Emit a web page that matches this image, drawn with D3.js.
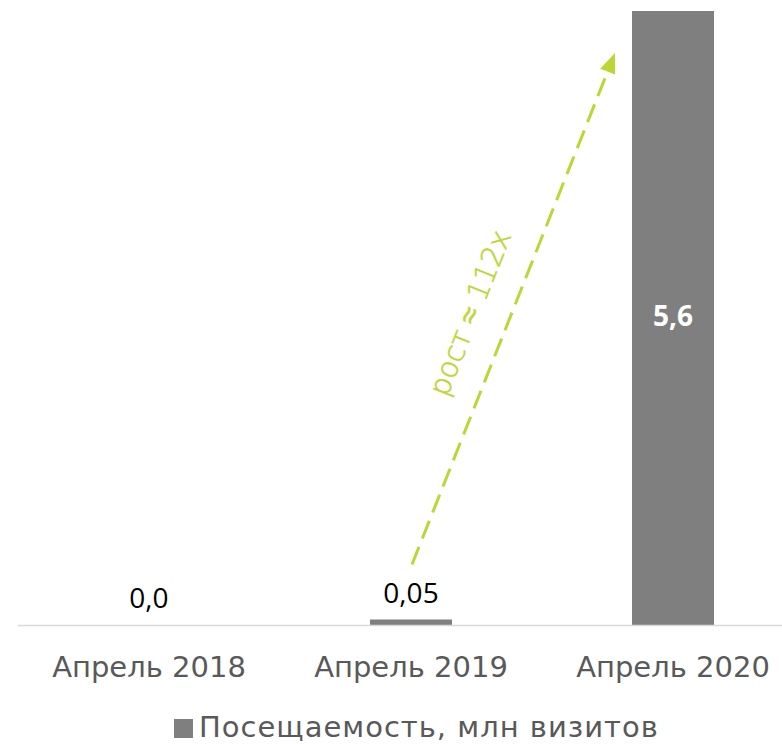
<!DOCTYPE html>
<html>
<head>
<meta charset="utf-8">
<script src="https://cdn.jsdelivr.net/npm/d3@7"></script>
<style>
  html, body { margin: 0; padding: 0; background: #fff; }
  svg { display: block; }
</style>
</head>
<body>
<script>
// Monthly visits, millions
const categories = ["Апрель 2018", "Апрель 2019", "Апрель 2020"];
const visits = [0.0, 0.05, 5.6];
const valueLabels = ["0,0", "0,05", "5,6"];
const seriesName = "Посещаемость, млн визитов";
const growthLabel = "рост ≈ 112x";

const W = 782, H = 744;
const baseY = 625, topY = 11;
const barColor = "#7f7f7f";
const accent = "#bdd635";

const svg = d3.select("body").append("svg")
  .attr("width", W).attr("height", H);

const x = d3.scaleBand()
  .domain(categories)
  .range([18, 804])
  .paddingInner(0.687)
  .paddingOuter(0.3435);

const y = d3.scaleLinear()
  .domain([0, 5.6])
  .range([baseY, topY]);

// bars
svg.append("g").selectAll("rect")
  .data(visits)
  .join("rect")
  .attr("x", (d, i) => x(categories[i]))
  .attr("width", x.bandwidth())
  .attr("y", d => y(d))
  .attr("height", d => baseY - y(d))
  .attr("fill", barColor);

// baseline axis
const xAxis = d3.axisBottom(x).tickSize(0).tickPadding(0);
const axisG = svg.append("g")
  .attr("transform", `translate(0,${baseY})`)
  .call(xAxis);
axisG.select(".domain").remove();
axisG.append("line")
  .attr("x1", 18).attr("x2", W)
  .attr("y1", 0.5).attr("y2", 0.5)
  .attr("stroke", "#d9d9d9").attr("stroke-width", 1.5);
axisG.selectAll(".tick text")
  .attr("y", 52)
  .attr("dy", null)
  .attr("fill", "#595959")
  .attr("font-family", "DejaVu Sans, sans-serif")
  .attr("font-size", 29);

// value labels
const big = 1;
svg.append("g").selectAll("text")
  .data(visits)
  .join("text")
  .attr("x", (d, i) => x(categories[i]) + x.bandwidth() / 2)
  .attr("y", d => d > big ? (y(d) + baseY) / 2 + 8 : y(d) - 17)
  .attr("text-anchor", "middle")
  .attr("font-family", "Open Sans, sans-serif")
  .attr("font-size", 28)
  .attr("font-weight", d => d > big ? 700 : 400)
  .attr("fill", d => d > big ? "#ffffff" : "#000000")
  .text((d, i) => valueLabels[i]);

// growth arrow from the 2019 label up to the 2020 bar
const x0 = x(categories[1]) + x.bandwidth() / 2 + 1;
const y0 = y(visits[1]) - 55;
const x1 = x(categories[2]) - 17;
const y1 = 53;
const ang = Math.atan2(y1 - y0, x1 - x0);
const headLen = 20, headHalf = 8;
const bx = x1 - headLen * Math.cos(ang), by = y1 - headLen * Math.sin(ang);

svg.append("line")
  .attr("x1", x0).attr("y1", y0)
  .attr("x2", bx).attr("y2", by)
  .attr("stroke", accent)
  .attr("stroke-width", 3)
  .attr("stroke-dasharray", "19,9");

const px = -Math.sin(ang), py = Math.cos(ang);
svg.append("path")
  .attr("d", `M${x1},${y1}L${bx + px * headHalf},${by + py * headHalf}L${bx - px * headHalf},${by - py * headHalf}Z`)
  .attr("fill", accent);

// rotated growth caption
const deg = ang * 180 / Math.PI;
svg.append("text")
  .attr("transform", `translate(470,313) rotate(${deg})`)
  .attr("text-anchor", "middle")
  .attr("dominant-baseline", "central")
  .attr("font-family", "DejaVu Sans, sans-serif")
  .attr("font-weight", 300)
  .attr("font-size", 29)
  .attr("stroke", accent)
  .attr("stroke-width", 0.6)
  .attr("fill", accent)
  .text(growthLabel);

// legend
const lg = svg.append("g");
lg.append("rect")
  .attr("x", 174).attr("y", 719)
  .attr("width", 19).attr("height", 19)
  .attr("fill", barColor);
lg.append("text")
  .attr("x", 199).attr("y", 737)
  .attr("font-family", "DejaVu Sans, sans-serif")
  .attr("font-size", 29)
  .attr("letter-spacing", 1)
  .attr("fill", "#595959")
  .text(seriesName);
</script>
</body>
</html>
